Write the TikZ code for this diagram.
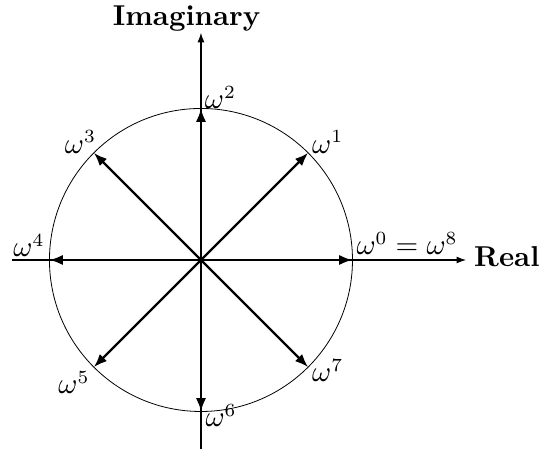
\documentclass[tikz,border=0pt]{standalone}
\usetikzlibrary{arrows.meta}
\begin{document}
\begin{tikzpicture}[font=\fontsize{10.5}{12}\selectfont,
  axisline/.style={line width=0.4pt,-{Latex[length=3.6pt,width=2.6pt]}},
  vec/.style={line width=0.85pt,-{Latex[length=5pt,width=3.8pt]}},
  wlab/.style={inner sep=0pt},
  axlab/.style={inner sep=0pt,font=\fontsize{10.8}{13}\selectfont\bfseries}]
\useasboundingbox (-2.653,-2.535) rectangle (4.66,3.432);
\coordinate (O) at (0,0);
\draw[line width=0.3pt] (O) circle (2);
\coordinate (xl) at (-2.5,0);
\coordinate (xr) at (3.5,0);
\coordinate (yb) at (0,-2.5);
\coordinate (yt) at (0,3);
\draw[axisline] (xl) -- (xr);
\draw[axisline] (yb) -- (yt);
\node[axlab,anchor=base west] (real) at (3.60,-0.088) {Real};
\node[axlab,anchor=base] (imag) at (-0.19,3.10) {Imaginary};
\foreach \k in {0,...,7}{\coordinate (p\k) at ({45*\k}:2);}
\foreach \k in {0,...,7}{\draw[vec] (O) -- (p\k);}
\node[wlab,anchor=base west] (l0) at (2.046,0.066) {$\omega^0=\omega^8$};
\node[wlab,anchor=base west] (l1) at (1.461,1.408) {$\omega^1$};
\node[wlab,anchor=base west] (l2) at (0.046,1.993) {$\omega^2$};
\node[wlab,anchor=base east] (l3) at (-1.377,1.408) {$\omega^3$};
\node[wlab,anchor=base east] (l4) at (-2.059,0.044) {$\omega^4$};
\node[wlab,anchor=base east] (l5) at (-1.465,-1.765) {$\omega^5$};
\node[wlab,anchor=base west] (l6) at (0.053,-2.2) {$\omega^6$};
\node[wlab,anchor=base west] (l7) at (1.461,-1.608) {$\omega^7$};
\end{tikzpicture}
\end{document}
